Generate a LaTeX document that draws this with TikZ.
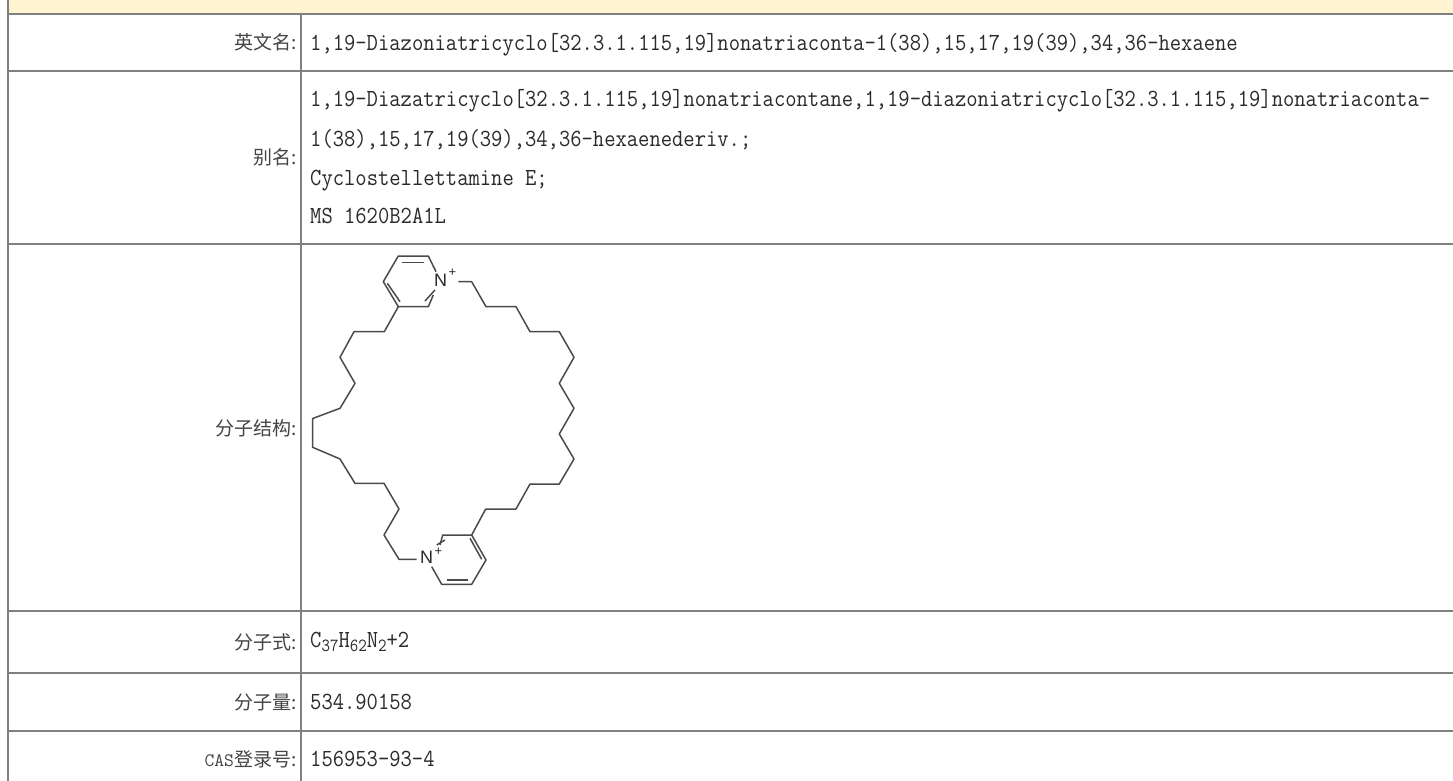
\documentclass[tikz,border=0pt]{standalone}
\usepackage{fontspec}
\usepackage{graphicx}
\newfontfamily\cjk{Noto Sans CJK SC}
\newfontfamily\atomf{Liberation Sans}
\newcommand{\mono}{\fontsize{24.6}{24.6}\selectfont\ttfamily}
\newcommand{\cjkf}{\fontsize{19}{19}\selectfont\cjk}
\newcommand{\vt}[1]{\scalebox{.893}[1]{#1}}
\newcommand{\sbs}[1]{\raisebox{-4pt}{\fontsize{18.5}{18.5}\selectfont #1}}
\definecolor{rule}{HTML}{808080}
\definecolor{band}{HTML}{FFF4D2}
\definecolor{ink}{HTML}{2A2A2A}
\definecolor{lbl}{HTML}{444444}
\definecolor{bond}{HTML}{4A4A4A}
\tikzset{
  x=1pt,y=-1pt,
  rulel/.style={draw=rule,line width=2pt},
  lab/.style={anchor=east,inner sep=0pt,text=lbl,font=\cjkf},
  val/.style={anchor=base west,inner sep=0pt,text=ink,font=\mono},
  bondl/.style={draw=bond,line width=1.5pt,line join=round},
  atom/.style={inner sep=0pt,text=ink,font=\fontsize{18}{18}\selectfont\atomf},
  chg/.style={inner sep=0pt,text=ink,font=\fontsize{13}{13}\selectfont\atomf}
}
\begin{document}
\begin{tikzpicture}
\useasboundingbox (0,0) rectangle (1453,781);
\fill[white] (0,0) rectangle (1453,781);
\fill[band] (8,0) rectangle (1453,14);
\draw[rulel] (8,0) -- (8,781);
\draw[rulel] (301,14) -- (301,781);
\foreach \y in {14,71,243.5,610.5,673,730.5} \draw[rulel] (8,\y) -- (1453,\y);
\node[lab] (l1) at (296.5,42) {英文名:};
\node[lab] (l2) at (296.5,157) {别名:};
\node[lab] (l3) at (296.5,428) {分子结构:};
\node[lab] (l4) at (296.5,642) {分子式:};
\node[lab] (l5) at (296.5,702) {分子量:};
\node[lab] (l6) at (296.5,759) {{\fontsize{19}{19}\selectfont\ttfamily CAS}登录号:};
\node[val] (v1) at (310,51) {\vt{1,19-Diazoniatricyclo[32.3.1.115,19]nonatriaconta-1(38),15,17,19(39),34,36-hexaene}};
\node[val] (v2) at (310,106.5) {\vt{1,19-Diazatricyclo[32.3.1.115,19]nonatriacontane,1,19-diazoniatricyclo[32.3.1.115,19]nonatriaconta-}};
\node[val] (v3) at (310,146.5) {\vt{1(38),15,17,19(39),34,36-hexaenederiv.;}};
\node[val] (v4) at (310,185) {\vt{Cyclostellettamine E;}};
\node[val] (v5) at (310,223) {\vt{MS 1620B2A1L}};
\node[val] (v6) at (310,647) {\vt{C\sbs{37}H\sbs{62}N\sbs{2}+2}};
\node[val] (v7) at (310,709) {\vt{534.90158}};
\node[val] (v8) at (310,766) {\vt{156953-93-4}};
% upper pyridinium
\node[atom] (n1) at (440.7,280) {N};
\node[chg] (p1) at (452.3,273) {+};
\draw[bondl] (436,271.7) -- (428.3,256) -- (398.3,256) -- (383.3,281.7) -- (398.3,306.7) -- (428.3,306.7) -- (433.3,295);
\draw[bondl] (425,301) -- (435,290);
\draw[bondl] (401.7,262.7) -- (424,262.7);
\draw[bondl] (387.3,283.3) -- (400,301.7);
% lower pyridinium
\node[atom] (n2) at (426.7,557.7) {N};
\node[chg] (p2) at (438.3,551.7) {+};
\draw[bondl] (431.7,566.7) -- (441.7,584.3) -- (471.7,584.3) -- (486,560) -- (471.7,535) -- (442.7,535) -- (440,545);
\draw[bondl] (436.7,545) -- (445,540);
\draw[bondl] (446.7,580) -- (468.3,580);
\draw[bondl] (481.7,559.3) -- (470,538.3);
% chains
\coordinate (ur) at (398.3,306.7);
\coordinate (lr) at (471.7,535);
\draw[bondl] (ur) -- (384.3,331.7) -- (354,331.7) -- (340,357.3) -- (355,383.3) -- (340,408.3) -- (312.7,418.5) -- (312.7,447.3) -- (340,459) -- (355,483.3) -- (384,483.3) -- (399,509) -- (384,535) -- (399,559.3) -- (416.7,559.3);
\draw[bondl] (458.3,281.7) -- (471.7,281.7) -- (486,306.7) -- (516,306.7) -- (530,331.7) -- (559.3,331.7) -- (574,357.3) -- (559.3,383.3) -- (574,408.3) -- (559.3,434) -- (574,459) -- (559.3,484) -- (530,484) -- (516,509) -- (485.7,509) -- (lr);
\end{tikzpicture}
\end{document}
